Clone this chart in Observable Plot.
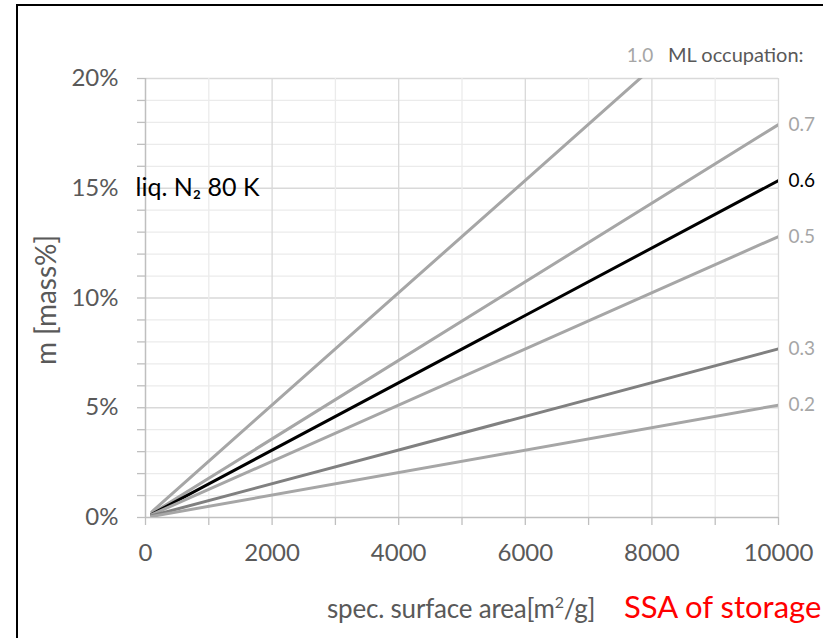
<!DOCTYPE html>
<html><head><meta charset="utf-8">
<script src="https://cdn.jsdelivr.net/npm/d3@7"></script>
<script src="https://cdn.jsdelivr.net/npm/@observablehq/plot@0.6"></script>
<style>
body{margin:0;background:#fff;}
#wrap{position:relative;width:823px;height:638px;overflow:hidden;font-family:Lato,sans-serif;}
#frame{position:absolute;left:16px;top:4px;width:900px;height:700px;border-left:2px solid #000;border-top:2px solid #000;box-sizing:border-box;}
#chart{position:absolute;left:0;top:0;}
.lab{position:absolute;white-space:nowrap;line-height:1;}
</style></head><body>
<div id="wrap"><div id="frame"></div><div id="chart"></div>
<div class="lab" id="ylab" style="left:45px;top:300px;transform:translate(-50%,-50%) rotate(-90deg);font-size:28px;color:#595959;">m [mass%]</div>
<div class="lab" style="left:327px;top:594px;font-size:26px;color:#595959;letter-spacing:-0.2px;">spec. surface area[m<sup style="font-size:16px">2</sup>/g]</div>
<div class="lab" style="left:624px;top:591px;font-size:31px;color:#ff0000;">SSA of storage</div>
</div>
<script>
// ML occupation levels and their line endpoints (mass% at SSA)
const occupations = ["1.0", "0.7", "0.6", "0.5", "0.3", "0.2"];
const ssaStart = [100, 100, 100, 100, 100, 100];
const massStart = [0.26, 0.18, 0.15, 0.13, 0.08, 0.05];
const ssaEnd = [10000, 10000, 10000, 10000, 10000, 10000];
const massEnd = [25.6, 17.9, 15.35, 12.8, 7.68, 5.12];
const lineColors = ["#a6a6a6", "#a6a6a6", "#000000", "#a6a6a6", "#808080", "#a6a6a6"];
const labelColors = ["#a6a6a6", "#a6a6a6", "#000000", "#a6a6a6", "#a6a6a6", "#a6a6a6"];
const xTicks = [0, 2000, 4000, 6000, 8000, 10000];
const xMinor = [1000, 3000, 5000, 7000, 9000];
const yTicks = [0, 5, 10, 15, 20];
const yMinor = [1, 2, 3, 4, 6, 7, 8, 9, 11, 12, 13, 14, 16, 17, 18, 19];

const segs = [];
occupations.forEach((o, i) => {
  segs.push({occ: o, x: ssaStart[i], y: massStart[i], c: lineColors[i]});
  segs.push({occ: o, x: ssaEnd[i], y: massEnd[i], c: lineColors[i]});
});
const labelsRight = occupations.map((o, i) => ({occ: o, x: ssaEnd[i], y: massEnd[i], c: labelColors[i]})).filter(d => d.y <= 20);
// top label where the 1.0 line meets 20%
const topLab = occupations.map((o, i) => {
  const xs = ssaStart[i] + (20 - massStart[i]) / (massEnd[i] - massStart[i]) * (ssaEnd[i] - ssaStart[i]);
  return {occ: o, x: xs, y: 20, c: labelColors[i]};
}).filter(d => d.x <= 10000);

const fam = "Lato, sans-serif";
const plot = Plot.plot({
  width: 823, height: 638,
  marginLeft: 145, marginRight: 45, marginTop: 78, marginBottom: 121,
  style: {fontFamily: fam, background: "transparent", overflow: "visible"},
  x: {domain: [0, 10000], type: "linear"},
  y: {domain: [0, 20], type: "linear"},
  marks: [
    Plot.ruleY(yMinor, {stroke: "#ebebeb", strokeWidth: 1.3}),
    Plot.ruleY(yTicks.filter(d => d > 0), {stroke: "#d9d9d9", strokeWidth: 1.3}),
    Plot.ruleX(xMinor, {stroke: "#ebebeb", strokeWidth: 1.3}),
    Plot.ruleX(xTicks.filter(d => d > 0), {stroke: "#d9d9d9", strokeWidth: 1.3}),
    Plot.ruleX([0], {stroke: "#bfbfbf", strokeWidth: 1.5}),
    Plot.ruleY([0], {stroke: "#bfbfbf", strokeWidth: 1.5}),
    Plot.axisY({ticks: yTicks.concat(yMinor), tickSize: 8, tickFormat: () => "", stroke: "#bfbfbf", strokeWidth: 1.3, tickPadding: 0, label: null}),
    Plot.axisY({ticks: yTicks, tickSize: 0, tickPadding: 27, tickFormat: d => d + "%", fontSize: 24, fill: "#595959", label: null}),
    Plot.axisX({ticks: xTicks.concat(xMinor), tickSize: 8, tickFormat: () => "", stroke: "#bfbfbf", strokeWidth: 1.3, label: null}),
    Plot.axisX({ticks: xTicks, tickSize: 0, tickPadding: 26, fontSize: 24, fill: "#595959", tickFormat: d => String(d), label: null}),
    Plot.line(segs, {x: "x", y: "y", z: "occ", stroke: "c", strokeWidth: 3, clip: true}),
    Plot.text(labelsRight, {x: "x", y: "y", text: "occ", fill: "c", dx: 10, textAnchor: "start", fontSize: 19}),
    Plot.text(topLab, {x: "x", y: "y", text: "occ", fill: "c", dy: -23, textAnchor: "middle", fontSize: 19}),
    Plot.text(topLab, {x: "x", y: "y", text: () => "ML occupation:", fill: "#595959", dx: 28, dy: -23, textAnchor: "start", fontSize: 20}),
    Plot.text(["liq. N₂ 80 K"], {frameAnchor: "left", y: 15, dx: -10, text: d => d, fill: "#000", textAnchor: "start", fontSize: 25})
  ]
});
document.getElementById("chart").appendChild(plot);
</script>
</body></html>
